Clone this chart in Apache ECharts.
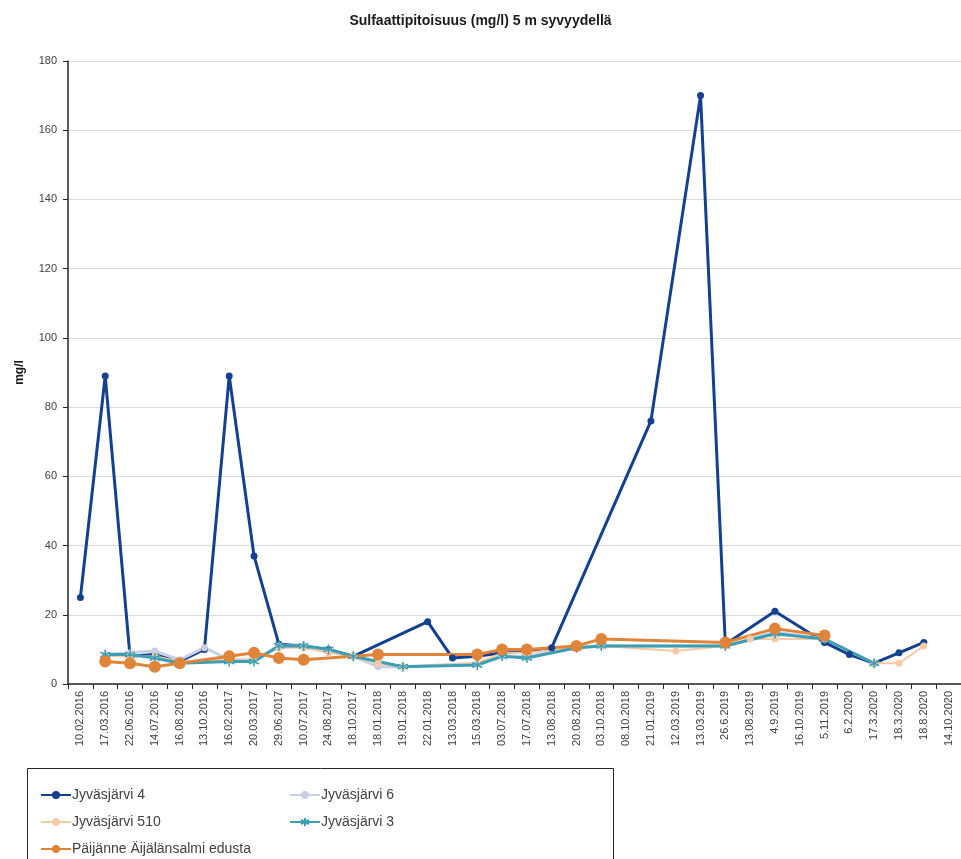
<!DOCTYPE html>
<html>
<head>
<meta charset="utf-8">
<style>
  html, body { margin: 0; padding: 0; background: #fff; }
  #chart { width: 961px; height: 859px; }
</style>
<script src="https://cdn.jsdelivr.net/npm/echarts@6/dist/echarts.min.js"></script>
</head>
<body>
<div id="chart"></div>
<script>
// näytteenottopäivät
const dates = [
  '10.02.2016', '17.03.2016', '22.06.2016', '14.07.2016', '16.08.2016', '13.10.2016',
  '16.02.2017', '20.03.2017', '29.06.2017', '10.07.2017', '24.08.2017', '18.10.2017',
  '18.01.2018', '19.01.2018', '22.01.2018', '13.03.2018', '15.03.2018', '03.07.2018',
  '17.07.2018', '13.08.2018', '20.08.2018', '03.10.2018', '08.10.2018', '21.01.2019',
  '12.03.2019', '13.03.2019', '26.6.2019', '13.08.2019', '4.9.2019', '16.10.2019',
  '5.11.2019', '6.2.2020', '17.3.2020', '18.3.2020', '18.8.2020', '14.10.2020'
]
const jyvas4 = [25, 89, 8, 8.5, 6.5, 10, 89, 37, 11.5, 11, 10, 8, null, null, 18, 7.5, 8, 9, 9.5, 10.5,
  null, null, null, 76, null, 170, 11.5, null, 21, null, 12, 8.5, 6, 9, 12, null]
const jyvas6 = [null, 8.5, 9, 9.5, 7, 10.5, 7, 7, 11, 11, 9.5, 8, 5, 5, null, null, 6, 8, 8, null,
  10.5, 11, null, null, null, null, 11, null, 15, null, 13, null, 6, null, null, null]
const jyvas510 = [null, 8, 8, 8, 6.5, null, 7, 7, 10.5, 10.5, 9, 8, 6, 5, null, null, 6, 9, 9, null,
  10.5, 11, null, null, 9.5, null, 11, 13, 13, null, 13, null, 6, 6, 11, null]
const jyvas3 = [null, 8.5, 8.5, 7.5, 6, null, 6.5, 6.5, 11, 11, 10, 8, null, 5, null, null, 5.5, 8, 7.5, null,
  10.5, 11, null, null, null, null, 11, null, 14.5, null, 13, null, 6, null, null, null]
const paijanne = [null, 6.5, 6, 5, 6, null, 8, 9, 7.5, 7, null, null, 8.5, null, null, null, 8.5, 10, 10, null,
  11, 13, null, null, null, null, 12, null, 16, null, 14, null, null, null, null, null]
const yTicks = [0, 20, 40, 60, 80, 100, 120, 140, 160, 180]

const font = 'Liberation Sans'
const txt = '#404040'
const asterisk = 'path://M0,-5L0,5M-4.3,-2.5L4.3,2.5M-4.3,2.5L4.3,-2.5'

const chart = echarts.init(document.getElementById('chart'))

function legendAt(name, left, top) {
  return {
    data: [name],
    left: left,
    top: top,
    itemWidth: 30,
    itemHeight: 10,
    itemGap: 0,
    padding: 0,
    selectedMode: false,
    textStyle: { fontFamily: font, fontSize: 14, color: txt, padding: [0, 0, 0, -4] }
  }
}

chart.setOption({
  animation: false,
  title: {
    text: 'Sulfaattipitoisuus (mg/l) 5 m syvyydellä',
    left: 'center',
    top: 9,
    textStyle: { fontFamily: font, fontSize: 14, fontWeight: 'bold', color: '#1a1a1a' }
  },
  grid: { left: 68, top: 61, width: 896, height: 623 },
  legend: [
    legendAt('Jyväsjärvi 4', 40, 788),
    legendAt('Jyväsjärvi 6', 289, 788),
    legendAt('Jyväsjärvi 510', 40, 815),
    legendAt('Jyväsjärvi 3', 289, 815),
    legendAt('Päijänne Äijälänsalmi edusta', 40, 842)
  ],
  graphic: [{
    type: 'rect',
    shape: { x: 27.5, y: 768.5, width: 586, height: 100 },
    style: { fill: 'none', stroke: '#262626', lineWidth: 1 },
    silent: true
  }],
  xAxis: {
    type: 'category',
    data: dates,
    boundaryGap: true,
    axisLine: { lineStyle: { color: '#262626', width: 1.5 } },
    axisTick: { show: true, alignWithLabel: false, length: 5, lineStyle: { color: '#262626' } },
    axisLabel: { interval: 0, rotate: 90, fontFamily: font, fontSize: 11, color: txt, margin: 7 }
  },
  yAxis: {
    type: 'value',
    min: yTicks[0],
    max: yTicks[yTicks.length - 1],
    interval: 20,
    name: 'mg/l',
    nameLocation: 'middle',
    nameRotate: 90,
    nameGap: 42,
    nameTextStyle: { fontFamily: font, fontSize: 12, fontWeight: 'bold', color: '#1a1a1a' },
    axisLine: { show: true, lineStyle: { color: '#262626', width: 1.5 } },
    axisTick: { show: true, length: 5, lineStyle: { color: '#262626' } },
    axisLabel: { fontFamily: font, fontSize: 11, color: txt, margin: 11 },
    splitLine: { lineStyle: { color: '#d9d9d9', width: 1 } }
  },
  series: [
    {
      name: 'Jyväsjärvi 4', type: 'line', data: jyvas4, connectNulls: true,
      symbol: 'circle', symbolSize: 7,
      lineStyle: { color: '#14418f', width: 3 },
      itemStyle: { color: '#14418f' }
    },
    {
      name: 'Jyväsjärvi 6', type: 'line', data: jyvas6, connectNulls: true,
      symbol: 'circle', symbolSize: 7,
      lineStyle: { color: '#c9d0e4', width: 3 },
      itemStyle: { color: '#c9d0e4' }
    },
    {
      name: 'Jyväsjärvi 510', type: 'line', data: jyvas510, connectNulls: true,
      symbol: 'circle', symbolSize: 7,
      lineStyle: { color: '#f8c9a5', width: 2 },
      itemStyle: { color: '#f8c9a5' }
    },
    {
      name: 'Jyväsjärvi 3', type: 'line', data: jyvas3, connectNulls: true,
      symbol: asterisk, symbolSize: 10,
      lineStyle: { color: '#3b9fb4', width: 3 },
      itemStyle: { color: '#3b9fb4', borderColor: '#3b9fb4', borderWidth: 1.5 }
    },
    {
      name: 'Päijänne Äijälänsalmi edusta', type: 'line', data: paijanne, connectNulls: true,
      symbol: 'circle', symbolSize: 12,
      lineStyle: { color: '#e0843a', width: 3 },
      itemStyle: { color: '#e0843a' }
    }
  ]
})
</script>
</body>
</html>
